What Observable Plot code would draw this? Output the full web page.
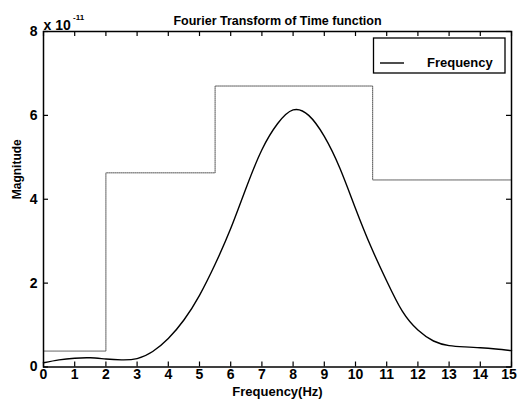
<!DOCTYPE html>
<html><head><meta charset="utf-8">
<script src="https://cdn.jsdelivr.net/npm/d3@7"></script>
<script src="https://cdn.jsdelivr.net/npm/@observablehq/plot@0.6"></script>
<style>html,body{margin:0;padding:0;background:#fff} svg{display:block}</style>
</head><body><div id="chart"></div>
<script>
// Values in units of 1e-11
const freq = [0,0.5,1,1.5,2,2.5,3,3.5,4,4.5,5,5.5,6,6.5,7,7.5,8,8.5,9,9.5,10,10.5,11,11.5,12,12.5,13,13.5,14,14.5,15];
const magnitude = [0.10,0.17,0.21,0.22,0.19,0.17,0.20,0.37,0.68,1.12,1.71,2.45,3.30,4.28,5.18,5.80,6.13,6.00,5.50,4.74,3.78,2.86,2.05,1.33,0.88,0.62,0.51,0.48,0.46,0.43,0.39];
const stepFreq = [0, 2, 5.5, 10.55, 15];
const stepLevel = [0.38, 4.63, 6.70, 4.46, 4.46];
const xTicks = [0,1,2,3,4,5,6,7,8,9,10,11,12,13,14,15];
const yTicks = [0,2,4,6,8];
const titleText = "Fourier Transform of Time function";
const xLabel = "Frequency(Hz)";
const yLabel = "Magnitude";
const exponentBase = "x 10";
const exponentPower = "-11";
const legendLabel = "Frequency";

const W = 517, H = 406, mL = 43, mR = 6, mT = 31, mB = 39.5;
const iw = W - mL - mR, ih = H - mT - mB;
const font = "'Liberation Sans', Arial, Helvetica, sans-serif";
const curveData = freq.map((f, i) => ({f, m: magnitude[i]}));
const stepData = stepFreq.map((f, i) => ({f, m: stepLevel[i]}));
const tickFont = {tickSize: 0, tickPadding: 2.5, fontSize: 14, fontWeight: "bold", label: null};

const chart = Plot.plot({
  width: W, height: H,
  marginLeft: mL, marginRight: mR, marginTop: mT, marginBottom: mB,
  style: {fontFamily: font, background: "#fff", color: "#000", overflow: "visible"},
  x: {domain: [0, 15]},
  y: {domain: [0, 8]},
  marks: [
    Plot.line(stepData, {x: "f", y: "m", curve: "step-after", stroke: "#555", strokeWidth: 1, strokeDasharray: "1,1"}),
    Plot.line(curveData, {x: "f", y: "m", curve: "natural", stroke: "#000", strokeWidth: 1.4}),
    Plot.tickX(xTicks, {x: d => d, insetTop: ih - 5, stroke: "#000", strokeWidth: 1.2}),
    Plot.tickX(xTicks, {x: d => d, insetBottom: ih - 5, stroke: "#000", strokeWidth: 1.2}),
    Plot.tickY(yTicks, {y: d => d, insetRight: iw - 5, stroke: "#000", strokeWidth: 1.2}),
    Plot.tickY(yTicks, {y: d => d, insetLeft: iw - 5, stroke: "#000", strokeWidth: 1.2}),
    Plot.axisX(xTicks.slice(0, -1), tickFont),
    Plot.axisX(xTicks.slice(-1), {...tickFont, dx: -2.5}),
    Plot.axisY(yTicks, {tickSize: 0, tickPadding: 6, fontSize: 14, fontWeight: "bold", label: null}),
    Plot.frame({stroke: "#000", strokeWidth: 1.5}),
    Plot.text([titleText], {text: d => d, frameAnchor: "top", dy: -15, fontSize: 12.5, fontWeight: "bold"}),
    Plot.text([xLabel], {text: d => d, frameAnchor: "bottom", dy: 29.3, fontSize: 13, fontWeight: "bold"}),
    Plot.text([yLabel], {text: d => d, frameAnchor: "left", dx: -26.3, rotate: -90, fontSize: 12, fontWeight: "bold"}),
    Plot.text([exponentBase], {text: d => d, frameAnchor: "top-left", textAnchor: "start", dy: -11, fontSize: 14, fontWeight: "bold"}),
    Plot.text([exponentPower], {text: d => d, frameAnchor: "top-left", textAnchor: "start", dx: 29.5, dy: -17.6, fontSize: 8, fontWeight: "bold"})
  ]
});

// Legend box (top-right)
const svg = d3.select(chart);
const lg = svg.append("g").attr("class", "legend");
lg.append("rect").attr("x", 373.5).attr("y", 38).attr("width", 131.5).attr("height", 35)
  .attr("fill", "#fff").attr("stroke", "#000").attr("stroke-width", 1.3);
lg.append("line").attr("x1", 380).attr("x2", 404).attr("y1", 63).attr("y2", 63)
  .attr("stroke", "#000").attr("stroke-width", 1.4);
lg.append("text").attr("x", 427).attr("y", 67).attr("font-size", 13).attr("font-weight", "bold")
  .attr("text-anchor", "start").attr("font-family", font).attr("fill", "#000").text(legendLabel);

document.getElementById("chart").appendChild(chart);
</script>
</body></html>
